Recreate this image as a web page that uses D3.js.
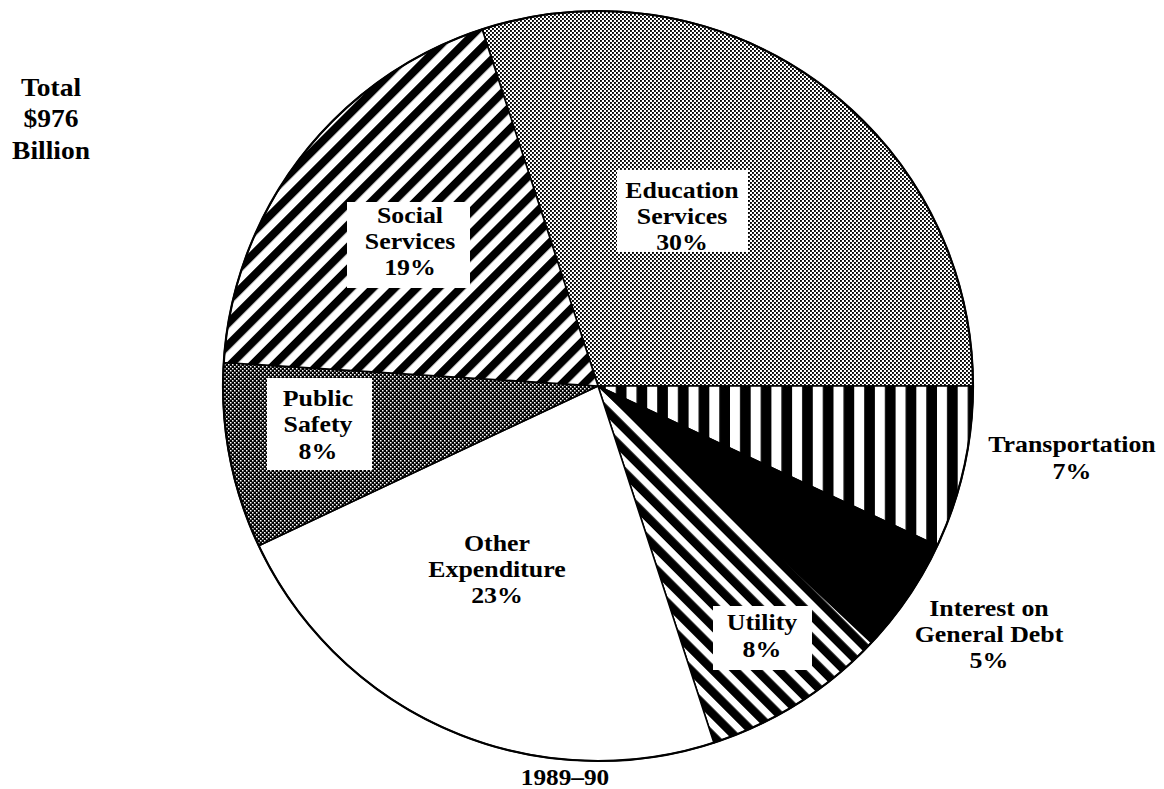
<!DOCTYPE html>
<html><head><meta charset="utf-8">
<script src="https://cdn.jsdelivr.net/npm/d3@7"></script>
<style>
html,body{margin:0;padding:0;background:#fff;}
svg{display:block;}
text{font-family:"Liberation Serif","Times New Roman",serif;font-weight:bold;fill:#000;}
</style></head>
<body>
<svg id="chart" width="1164" height="789"></svg>
<script>
// ---- data ----
const categories = ["Education Services","Transportation","Interest on General Debt","Utility","Other Expenditure","Public Safety","Social Services"];
const values = [30, 7, 5, 8, 23, 8, 19];
const labelLines = [
  ["Education","Services","30%"],
  ["Transportation","7%"],
  ["Interest on","General Debt","5%"],
  ["Utility","8%"],
  ["Other","Expenditure","23%"],
  ["Public","Safety","8%"],
  ["Social","Services","19%"]
];
const totalLines = ["Total","$976","Billion"];
const yearLabel = "1989\u201390";

// ---- layout ----
const W = 1164, H = 789;
const cx = 598, cy = 386, R = 375;
const startDeg = -18;
// label layout: center x, middle-line baseline y, optional white box [x0,y0,x1,y1]
const labelLayout = [
  {x:682, y:224, box:[617,170,748,252]},
  {x:1072, y:465.5},
  {x:989, y:642},
  {x:762, y:643.5, box:[713,606,812,670]},
  {x:497, y:577},
  {x:318, y:432.5, box:[267,378,372,470]},
  {x:410, y:249, box:[347,202,470,288]}
];
const lineH = 26.2;
const fs = 23.5;
const sx = 1.1;

const svg = d3.select("#chart");
const defs = svg.append("defs");

// patterns
function stripes(id, period, black, angle) {
  const p = defs.append("pattern").attr("id", id).attr("patternUnits","userSpaceOnUse")
    .attr("width", period).attr("height", period)
    .attr("patternTransform", `rotate(${angle})`);
  p.append("rect").attr("width", period).attr("height", period).attr("fill","#fff");
  p.append("rect").attr("x",0).attr("y",0).attr("width", black).attr("height", period).attr("fill","#000");
}
stripes("pSocial", 15.5, 8, 45);
stripes("pUtility", 15.5, 8.5, -45);
// vertical stripes for transportation
(function(){
  const per = 20.7;
  const p = defs.append("pattern").attr("id","pTrans").attr("patternUnits","userSpaceOnUse")
    .attr("x", 753).attr("y",0).attr("width", per).attr("height", 10);
  p.append("rect").attr("width", per).attr("height", 10).attr("fill","#000");
  p.append("rect").attr("x",0).attr("width", 10).attr("height", 10).attr("fill","#fff");
})();
function dots(id, bg, fg, s) {
  const p = defs.append("pattern").attr("id", id).attr("patternUnits","userSpaceOnUse")
    .attr("width", 4).attr("height", 4);
  p.append("rect").attr("width",4).attr("height",4).attr("fill",bg);
  p.append("rect").attr("x",0).attr("y",0).attr("width",s).attr("height",s).attr("fill",fg);
  p.append("rect").attr("x",2).attr("y",2).attr("width",s).attr("height",s).attr("fill",fg);
}
dots("pEdu", "#fff", "#000", 1.9);
dots("pSafety", "#000", "#fff", 1.5);

const fills = ["url(#pEdu)","url(#pTrans)","#000","url(#pUtility)","#fff","url(#pSafety)","url(#pSocial)"];

const pie = d3.pie().sort(null).value(d => d)
  .startAngle(startDeg * Math.PI/180).endAngle((startDeg + 360) * Math.PI/180);
const arcs = pie(values);
const arc = d3.arc().innerRadius(0).outerRadius(R);

const g = svg.append("g").attr("transform", `translate(${cx},${cy})`);
g.selectAll("path.slice").data(arcs).join("path")
  .attr("class","slice")
  .attr("d", arc)
  .attr("fill", (d,i) => fills[i])
  .attr("stroke", "#000").attr("stroke-width", 1.6).attr("stroke-linejoin","round");
g.append("circle").attr("r", R).attr("fill","none").attr("stroke","#000").attr("stroke-width",2.2);

// label boxes and texts
const lg = svg.append("g");
labelLayout.forEach((L, i) => {
  if (L.box) {
    lg.append("rect").attr("x", L.box[0]).attr("y", L.box[1])
      .attr("width", L.box[2]-L.box[0]).attr("height", L.box[3]-L.box[1]).attr("fill","#fff");
  }
  const lines = labelLines[i];
  const first = L.y - (lines.length - 1) / 2 * lineH;
  const t = lg.append("text").attr("text-anchor","middle").attr("font-size", fs)
    .attr("transform", `translate(${L.x},0) scale(${sx},1)`);
  lines.forEach((s, j) => {
    t.append("tspan").attr("x", 0).attr("y", first + j*lineH).text(s);
  });
});

const tt = svg.append("text").attr("text-anchor","middle").attr("font-size", 25)
  .attr("transform", `translate(51,0) scale(${sx},1)`);
totalLines.forEach((s, j) => tt.append("tspan").attr("x", 0).attr("y", 96 + j*31.5).text(s));

svg.append("text").attr("text-anchor","middle").attr("font-size", 23)
  .attr("transform", `translate(565,0) scale(${sx},1)`)
  .attr("y", 785).text(yearLabel);
</script>
</body></html>
